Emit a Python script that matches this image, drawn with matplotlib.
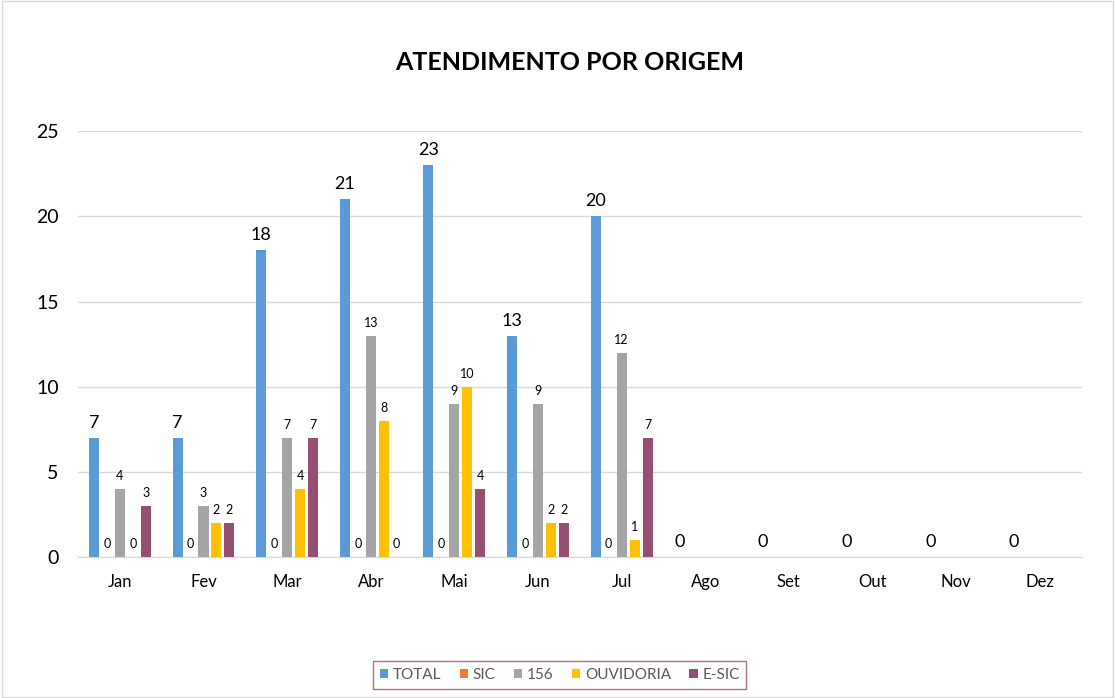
import matplotlib.pyplot as plt
import numpy as np

plt.rcParams['font.family'] = ['Lato', 'DejaVu Sans']

meses = ['Jan', 'Fev', 'Mar', 'Abr', 'Mai', 'Jun', 'Jul', 'Ago', 'Set', 'Out', 'Nov', 'Dez']
nan = np.nan
total = [7, 7, 18, 21, 23, 13, 20, 0, 0, 0, 0, 0]
sic = [0, 0, 0, 0, 0, 0, 0, nan, nan, nan, nan, nan]
s156 = [4, 3, 7, 13, 9, 9, 12, nan, nan, nan, nan, nan]
ouvidoria = [0, 2, 4, 8, 10, 2, 1, nan, nan, nan, nan, nan]
esic = [3, 2, 7, 0, 4, 2, 7, nan, nan, nan, nan, nan]

series = [('TOTAL', total, '#5B9BD5'),
          ('SIC', sic, '#ED7D31'),
          ('156', s156, '#A5A5A5'),
          ('OUVIDORIA', ouvidoria, '#FFC000'),
          ('E-SIC', esic, '#954F72')]

fig = plt.figure(figsize=(11.15, 6.98), dpi=100)
ax = fig.add_axes([0.070, 0.202, 0.900, 0.610])
fig.patches.append(plt.Rectangle((0.002, 0.002), 0.996, 0.996, transform=fig.transFigure,
                                 fill=False, edgecolor='#D9D9D9', lw=1))

x = np.arange(len(meses))
w = 0.12
passo = 0.155
for i, (nome, vals, cor) in enumerate(series):
    pos = x + (i - 2) * passo
    v = np.array(vals, dtype=float)
    ax.bar(pos, v, width=w, color=cor, label=nome, zorder=3)
    for p, val in zip(pos, v):
        if np.isnan(val):
            continue
        if i == 0:
            ax.annotate(f'{int(val)}', (p, val), xytext=(0, 5), textcoords='offset points',
                        ha='center', va='bottom', fontsize=13, color='#000000')
        else:
            ax.annotate(f'{int(val)}', (p, val), xytext=(0, 5), textcoords='offset points',
                        ha='center', va='bottom', fontsize=9, color='#000000')

ax.set_xlim(-0.5, len(meses) - 0.5)
ax.set_ylim(0, 25)
ax.set_yticks([0, 5, 10, 15, 20, 25])
ax.set_xticks(x)
ax.set_xticklabels(meses)
ax.tick_params(axis='x', length=0, labelsize=12, pad=12)
ax.tick_params(axis='y', length=0, labelsize=14, pad=14)
ax.grid(axis='y', color='#D9D9D9', lw=1, zorder=0)
for s in ['top', 'right', 'left']:
    ax.spines[s].set_visible(False)
ax.spines['bottom'].set_color('#D9D9D9')

fig.text(0.511, 0.911, 'ATENDIMENTO POR ORIGEM', ha='center', va='center',
         fontsize=18, fontweight='bold')

leg = fig.legend(loc='center', bbox_to_anchor=(0.502, 0.033), ncol=5, frameon=True,
                 fancybox=False, fontsize=11, handlelength=0.55, handleheight=0.55,
                 handletextpad=0.3, columnspacing=1.2, borderpad=0.45, borderaxespad=0)
leg.get_frame().set_edgecolor('#954F72')
leg.get_frame().set_linewidth(1)
for t in leg.get_texts():
    t.set_color('#595959')

fig.savefig('out.png', dpi=100)
